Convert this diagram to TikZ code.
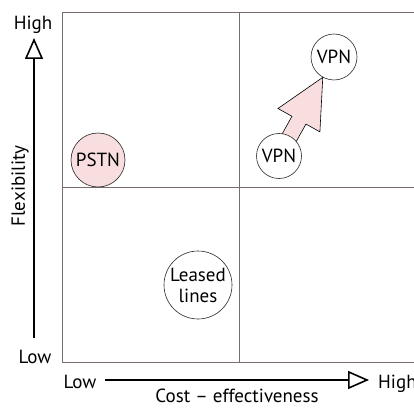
\documentclass[tikz,border=0pt]{standalone}
\usepackage{fontspec}
\setmainfont{PT Sans}
\usetikzlibrary{arrows.meta,calc}
\definecolor{boxline}{RGB}{120,108,108}
\definecolor{pinkfill}{RGB}{248,222,222}

\begin{document}
\begin{tikzpicture}[x=1pt,y=1pt]
\tikzstyle{every node}+=[inner sep=0pt,font=\fontsize{19}{21}\selectfont]
\tikzstyle{bubble}=[circle,draw=black!85,line width=0.6pt,fill=white,align=center]
\tikzstyle{quad}=[draw=boxline,line width=0.7pt]
\tikzstyle{axis}=[line width=2.6pt,-{Triangle[open,length=21pt,width=18pt,line width=1.6pt]}]
\useasboundingbox (0,0) rectangle (414,407);
% quadrants
\draw [quad] (414,395) -- (62,395) -- (62,45) -- (414,45);
\draw [quad] (239,395) -- (239,45);
\draw [quad] (62,220) -- (414,220);
% axes
\coordinate (ylow) at (34,69);
\coordinate (yhigh) at (34,369);
\coordinate (xlow) at (105,27);
\coordinate (xhigh) at (369,27);
\draw [axis] (ylow) -- (yhigh);
\draw [axis] (xlow) -- (xhigh);
\node (yhightxt) [anchor=base] at (33,377) {High};
\node (ylowtxt) [anchor=base] at (35,44) {Low};
\node (ylabel) [anchor=base,rotate=90] at (25,221) {Flexibility};
\node (xlowtxt) [anchor=base] at (80,19) {Low};
\node (xhightxt) [anchor=base west] at (378,19) {High};
\node (xlabel) [anchor=base] at (237,5) {Cost -- effectiveness};
% move of the VPN
\coordinate (lo) at (279,251);
\coordinate (hi) at (334,350);
\begin{scope}[shift={(lo)},rotate=60.9]
\draw [black,line width=0.6pt,fill=pinkfill] (15,8) -- (41,8) -- (41,24) -- (90,0)
  -- (41,-24) -- (41,-8) -- (15,-8) -- cycle;
\end{scope}
% bubbles
\node (pstn) [bubble,fill=pinkfill,minimum size=54pt] at (98,247) {PSTN};
\node (vpnlo) [bubble,minimum size=45pt] at (lo) {VPN};
\node (vpnhi) [bubble,minimum size=46pt] at (hi) {VPN};
\node (leased) [bubble,minimum size=68pt] at (198,122) {Leased\\lines};
\end{tikzpicture}
\end{document}
